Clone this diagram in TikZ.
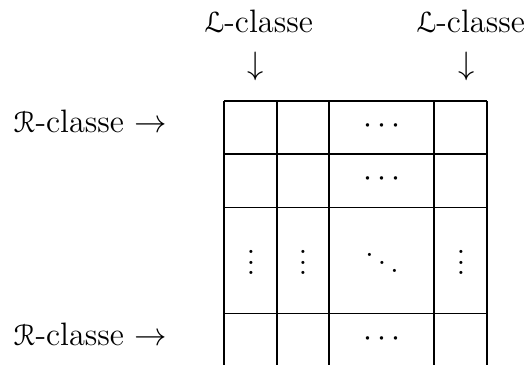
\documentclass[12pt,tikz,border=0pt]{standalone}
\usepackage{fontspec}
\newfontfamily\scriptletters[Scale=0.85]{DejaVu Sans}
\begin{document}
\begin{tikzpicture}[x=0.37pt,y=-0.37pt,
  txt/.style={inner sep=0pt, anchor=base},
  grid/.style={line width=0.45pt}]
\useasboundingbox (0,0) rectangle (528,365);
% grid: horizontal rules (the last row runs off the bottom edge)
\foreach \yy in {101,154,207.5,313.5}
  \draw[grid] (224,\yy) -- (487,\yy);
% grid: vertical rules
\foreach \xx in {224,277,329,434,487}
  \draw[grid] (\xx,101) -- (\xx,365);
% column labels
\node[txt, anchor=base west] (lA) at (204,33) {{\scriptletters ℒ}-classe};
\node[txt, anchor=base west] (lB) at (416,33) {{\scriptletters ℒ}-classe};
\node[inner sep=0pt] (dA) at (256,66) {$\downarrow$};
\node[inner sep=0pt] (dB) at (467,66) {$\downarrow$};
% row labels
\node[txt, anchor=base west] (rA) at (13,133) {{\scriptletters ℛ}-classe $\rightarrow$};
\node[txt, anchor=base west] (rB) at (13,346) {{\scriptletters ℛ}-classe $\rightarrow$};
% dots in the cells
\node[txt] (c1) at (382,134) {$\cdots$};
\node[txt] (c2) at (382,187) {$\cdots$};
\node[txt] (c4) at (382,347) {$\cdots$};
\node[txt] (v1) at (251,275) {$\vdots$};
\node[txt] (v2) at (303,275) {$\vdots$};
\node[txt] (v4) at (461,275) {$\vdots$};
\node[txt] (dd) at (382,275) {$\ddots$};
\end{tikzpicture}
\end{document}
